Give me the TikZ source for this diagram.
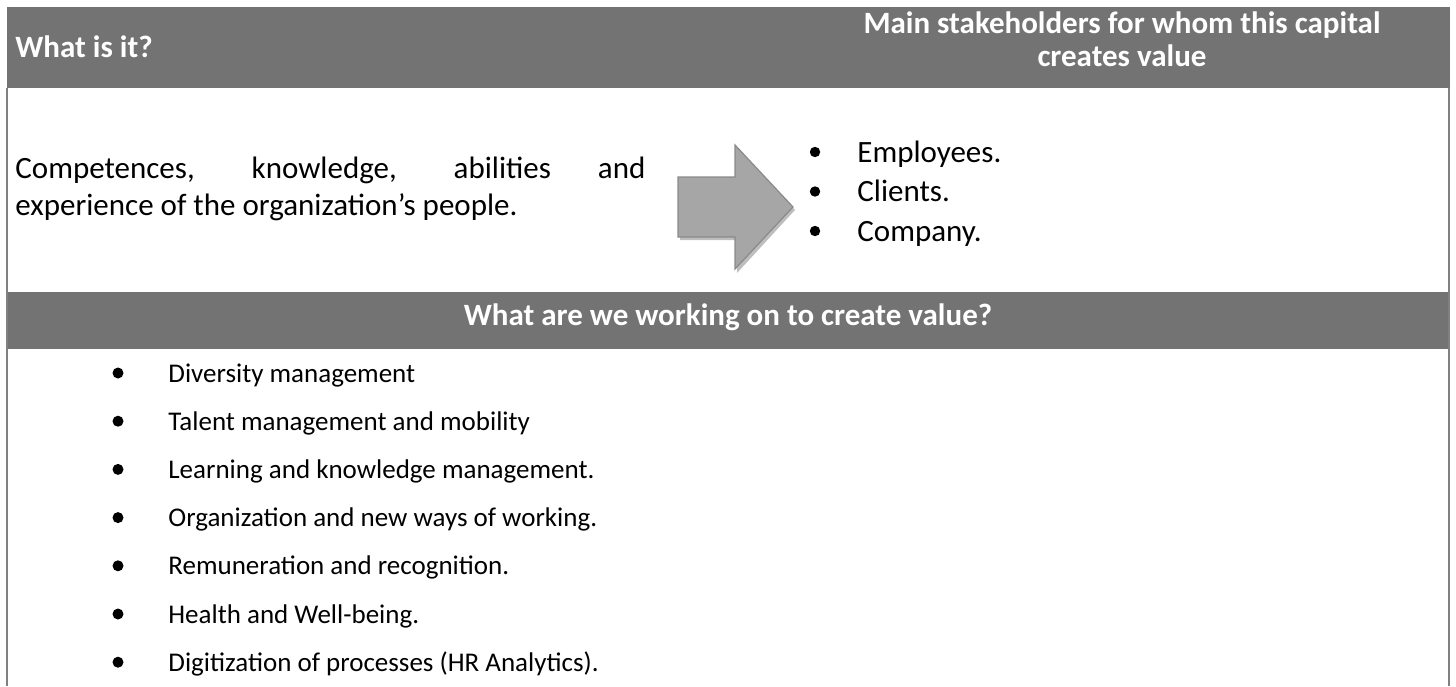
\documentclass[tikz,border=0pt]{standalone}
\usepackage{fontspec}
\setmainfont{Carlito}
\usepackage{tikz}

\definecolor{headgray}{RGB}{115,115,115}
\definecolor{framegray}{RGB}{128,128,128}
\definecolor{arrowfill}{RGB}{166,166,166}
\definecolor{arrowline}{RGB}{138,138,138}
\definecolor{arrowshade}{RGB}{190,190,190}

\tikzset{
  band/.style={fill=headgray},
  frame/.style={draw=framegray, line width=1pt},
  headtxt/.style={text=white, inner sep=0pt, font=\fontsize{15.5}{18}\selectfont\bfseries},
  toptxt/.style={inner sep=0pt, anchor=base west, font=\fontsize{15.5}{18}\selectfont},
  listtxt/.style={inner sep=0pt, anchor=base west, font=\fontsize{13.5}{16}\selectfont}
}

\begin{document}
\begin{tikzpicture}[x=0.5pt, y=-0.5pt]
        \useasboundingbox (0,0) rectangle (1456,686);

        % header bands and side rules
        \fill[band] (7,7) rectangle (1450,88);
        \fill[band] (7,292) rectangle (1450,349);
        \draw[frame] (7,88) -- (7,686);
        \draw[frame] (1449,88) -- (1449,686);

        \node[headtxt, anchor=base west] (whatis) at (15,57) {What is it?};
        \node[headtxt, anchor=base] (stakeA) at (1122,33) {Main stakeholders for whom this capital};
        \node[headtxt, anchor=base] (stakeB) at (1122,66) {creates value};
        \node[headtxt, anchor=base] (working) at (728,325) {What are we working on to create value?};

        % what is it
        \node[toptxt] (descA) at (15,178) {\makebox[315pt][s]{Competences, knowledge, abilities and}};
        \node[toptxt] (descB) at (15,215) {experience of the organization’s people.};

        % block arrow
        \fill[arrowshade] (680,180) -- (737,180) -- (737,148) -- (795,210) -- (737,273) -- (737,240) -- (680,240) -- cycle;
        \filldraw[fill=arrowfill, draw=arrowline, line width=0.6pt]
            (678,177) -- (735,177) -- (735,145) -- (793,207) -- (735,269) -- (735,237) -- (678,237) -- cycle;

        % stakeholders
        \foreach \txt [count=\i from 0] in {Employees., Clients., Company.} {
            \fill ({815},{152+39.5*\i}) circle (2.6pt);
            \node[toptxt] (holder\i) at ({857},{162+39.5*\i}) {\txt};
        }

        % what we work on
        \foreach \txt [count=\i from 0] in {Diversity management, Talent management and mobility,
            Learning and knowledge management., Organization and new ways of working.,
            Remuneration and recognition., Health and Well-being., Digitization of processes (HR Analytics).} {
            \fill ({118},{373+48.2*\i}) circle (2.75pt);
            \node[listtxt] (item\i) at ({168},{382+48.2*\i}) {\txt};
        }
    \end{tikzpicture}
\end{document}
